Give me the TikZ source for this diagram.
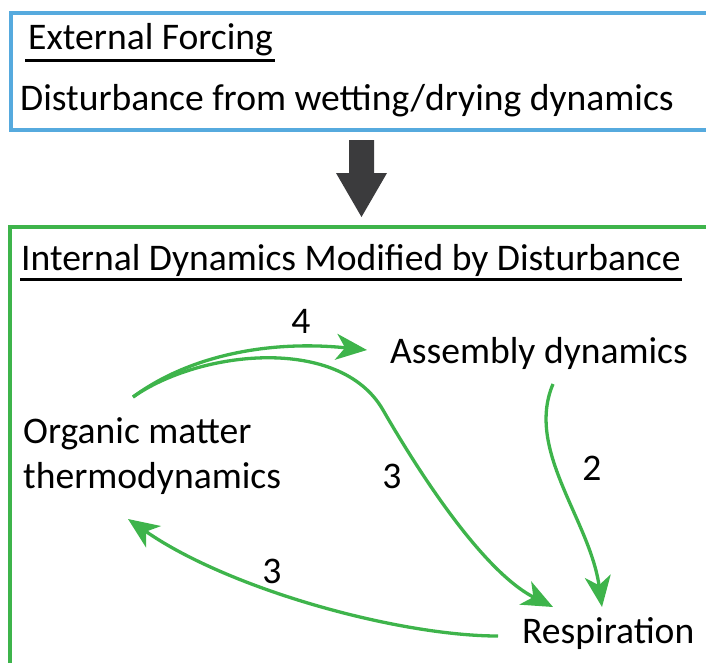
\documentclass[tikz,border=0pt]{standalone}
\usepackage{fontspec}
\setmainfont{Carlito}
\usetikzlibrary{arrows.meta}
\definecolor{forceblue}{RGB}{86,170,222}
\definecolor{dynagreen}{RGB}{62,180,75}
\definecolor{arrowgrey}{RGB}{59,59,61}

\begin{document}
\begin{tikzpicture}[x=1pt,y=-1pt,
    txt/.style={inner sep=0pt,anchor=base west,font=\fontsize{37.6}{45}\selectfont},
    num/.style={inner sep=0pt,anchor=base,font=\fontsize{37.6}{45}\selectfont},
    flow/.style={draw=dynagreen,line width=3.3pt,-{Stealth[length=31pt,width=26pt,inset=9pt]}}]
		\useasboundingbox (0,0) rectangle (706,662);
		\clip (0,0) rectangle (706,662);
		% the two frames, both run off the right edge
		\draw[forceblue,line width=4.5pt] (720,13) -- (11,13) -- (11,130) -- (720,130);
		\draw[dynagreen,line width=4.5pt] (720,227) -- (10,227) -- (10,700);
		\node[txt] (ext) at (28,49) {External Forcing};
		\draw[line width=3pt] ([shift={(-3pt,-11pt)}]ext.base west) -- ([shift={(2pt,-11pt)}]ext.base east);
		\node[txt] (dist) at (20,110) {Disturbance from wetting/drying dynamics};
		\fill[arrowgrey] (349,140) -- (374,140) -- (374,173) -- (387,173) -- (361.5,217) -- (336,173) -- (349,173) -- cycle;
		\node[txt] (intl) at (21,270) {Internal Dynamics Modified by Disturbance};
		\draw[line width=3pt] ([shift={(-1pt,-9pt)}]intl.base west) -- ([shift={(1pt,-9pt)}]intl.base east);
		% processes
		\node[txt] (ad) at (390,363) {Assembly dynamics};
		\node[txt,align=left] (om) at (23,488) {Organic matter\\thermodynamics};
		\node[txt] (re) at (522,643) {Respiration};
		\node[num] (l4) at (301,333) {4};
		\node[num] (l3a) at (392,488) {3};
		\node[num] (l2) at (592,480) {2};
		\node[num] (l3b) at (272,583) {3};
		\draw[flow] ([shift={(110pt,91pt)}]om.base west) .. controls (190,355) and (270,340) .. ([shift={(-23pt,13pt)}]ad.base west);
		\draw[flow] ([shift={(110pt,91pt)}]om.base west) .. controls (200,350) and (340,335) .. (383,410)
			.. controls (413,462) and (480,570) .. ([shift={(31pt,36pt)}]re.base west);
		\draw[flow] ([shift={(163pt,-21pt)}]ad.base west) .. controls (525,450) and (590,520) .. ([shift={(80pt,36pt)}]re.base west);
		\draw[flow] ([shift={(-24pt,7pt)}]re.base west) .. controls (400,636) and (230,590) .. ([shift={(105pt,-31pt)}]om.base west);
	\end{tikzpicture}
\end{document}
